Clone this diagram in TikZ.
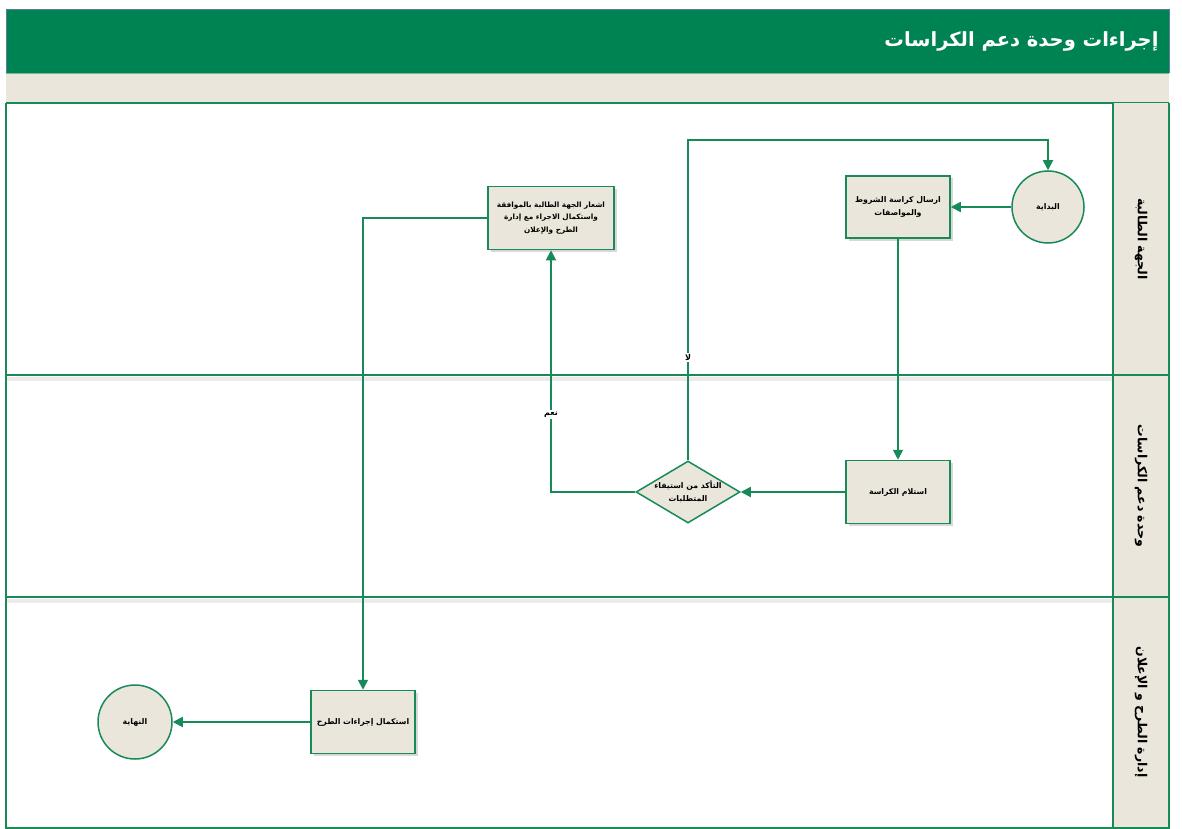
\documentclass[tikz,border=0pt]{standalone}
\usepackage{fontspec}
\newfontfamily\arabicfont[Script=Arabic]{DejaVu Sans}
\TeXXeTstate=1
\usetikzlibrary{arrows.meta,shapes.geometric,shadows}
\definecolor{hdrgreen}{HTML}{008352}
\definecolor{lngreen}{HTML}{178A58}
\definecolor{beige}{HTML}{EAE6DC}
\definecolor{framegray}{HTML}{5A7A9A}
\tikzset{
  x=1pt,y=-1pt,
  nodefont/.style={font=\arabicfont\bfseries\fontsize{7.8}{13}\selectfont},
  proc/.style={draw=lngreen,line width=1.5pt,fill=beige,minimum width=104pt,minimum height=62pt,align=center,inner sep=1pt,
    nodefont,
    drop shadow={shadow xshift=2.5pt,shadow yshift=-2.5pt,fill=black!30}},
  term/.style={circle,draw=lngreen,line width=1.5pt,fill=beige,minimum size=72pt,inner sep=0pt,nodefont},
  dec/.style={diamond,draw=lngreen,line width=1.5pt,fill=beige,minimum width=104pt,minimum height=62pt,inner sep=0pt},
  dectext/.style={align=center,inner sep=0pt,nodefont},
  flow/.style={draw=lngreen,line width=1.8pt,-{Triangle[length=10pt,width=10pt]}},
  lanelbl/.style={font=\arabicfont\bfseries\fontsize{12.5}{14}\selectfont,rotate=-90},
  elabel/.style={fill=white,inner sep=1.5pt,font=\arabicfont\bfseries\fontsize{8}{10}\selectfont},
}
\begin{document}
\begin{tikzpicture}
\useasboundingbox (0,0) rectangle (1182,829);
% header
\fill[hdrgreen] (6,10) rectangle (1169,73);
\fill[beige] (6,73) rectangle (1169,103);
\draw[lngreen!60,line width=0.8pt] (6,73) -- (1169,73);
\draw[lngreen,line width=1.5pt] (6,103) -- (1169,103);
\node[anchor=east,text=white,font=\arabicfont\bfseries\fontsize{19.5}{22}\selectfont] (title) at (1162,41) {\beginR إجراءات وحدة دعم الكراسات\endR};
% label column
\fill[beige] (1113,103) rectangle (1169,828);
% lane lines
\draw[black!8,line width=4pt] (6,379) -- (1113,379);
\draw[black!8,line width=4pt] (6,601) -- (1113,601);
\draw[lngreen,line width=1.5pt] (6,375) -- (1169,375);
\draw[lngreen,line width=1.5pt] (6,597) -- (1169,597);
\draw[lngreen,line width=1.5pt] (1113,103) -- (1113,828);
% outer frame
\draw[lngreen,line width=1.5pt] (6,103) -- (6,828) -- (1169,828) -- (1169,103);
\draw[framegray,line width=1pt] (6,73) -- (6,10) -- (1169,10) -- (1169,73);
% lane labels
\node[lanelbl] (l1) at (1141,239) {\beginR الجهة الطالبة\endR};
\node[lanelbl] (l2) at (1141,486) {\beginR وحدة دعم الكراسات\endR};
\node[lanelbl] (l3) at (1141,712) {\beginR إدارة الطرح و الإعلان\endR};
% nodes
\node[term] (start) at (1048,207) {\beginR البداية\endR};
\node[proc] (send) at (898,207) {\beginR ارسال كراسة الشروط\endR\\\beginR والمواصفات\endR};
\node[proc,minimum width=126pt,minimum height=63pt,font=\arabicfont\bfseries\fontsize{7.3}{12.5}\selectfont] (notify) at (551,218) {\beginR اشعار الجهة الطالبة بالموافقة\endR\\\beginR واستكمال الاجراء مع إدارة\endR\\\beginR الطرح والإعلان\endR};
\node[proc,minimum height=63pt] (recv) at (898,492) {\beginR استلام الكراسة\endR};
\node[dec] (check) at (688,492) {};
\node[dectext] (checktext) at (check.center) {\beginR التأكد من استيفاء\endR\\\beginR المتطلبات\endR};
\node[proc,minimum height=63pt] (compl) at (363,722) {\beginR استكمال إجراءات الطرح\endR};
\node[term,minimum size=74pt] (end) at (135,722) {\beginR النهاية\endR};
% connectors
\draw[flow] (start) -- (send);
\draw[flow] (send.south) -- (recv.north);
\draw[flow] (recv) -- (check);
\draw[flow] (check.west) -| node[elabel,pos=0.66] (yes) {\beginR نعم\endR} (notify.south);
\coordinate (c1) at (688,140);
\coordinate (c2) at (1048,140);
\draw[flow] (check.north) -- node[elabel,pos=0.32] (no) {\beginR لا\endR} (c1) -- (c2) -- (start.north);
\draw[flow] (notify.west) -| (compl.north);
\draw[flow] (compl) -- (end);
\end{tikzpicture}
\end{document}
